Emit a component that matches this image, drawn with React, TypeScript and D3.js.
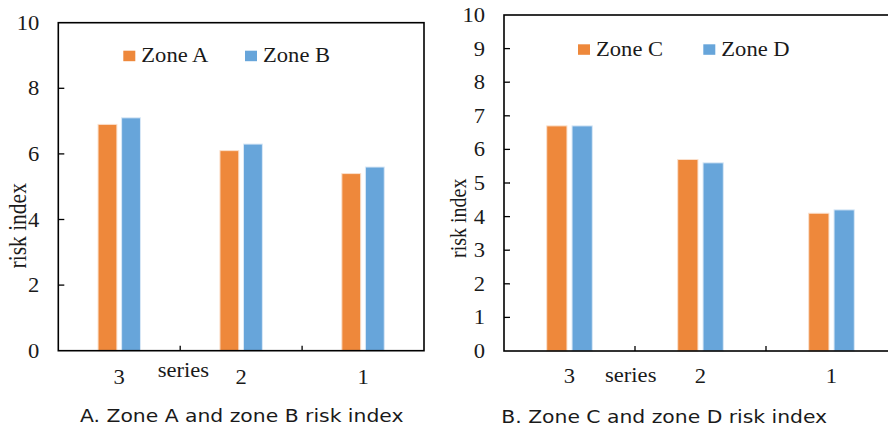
import React from 'react';
import * as d3 from 'd3';

const categories = ['3', '2', '1'];
const zoneA = [6.9, 6.1, 5.4];
const zoneB = [7.1, 6.3, 5.6];
const zoneC = [6.7, 5.7, 4.1];
const zoneD = [6.7, 5.6, 4.2];
const ticksLeft = [0, 2, 4, 6, 8, 10];
const ticksRight = [0, 1, 2, 3, 4, 5, 6, 7, 8, 9, 10];

const ORANGE = '#EE883B';
const BLUE = '#67A5DA';
const SERIF = '"Liberation Serif", "Times New Roman", serif';
const SANS = '"DejaVu Sans", Verdana, sans-serif';
const SX = 1.13; // the picture is a bit stretched sideways

type PanelProps = {
  left: number; right: number; top: number; bottom: number;
  ticks: number[];
  names: string[];
  series: number[][];
  legend: { x: number; y: number; gap: number };
  seriesLabel: { x: number; y: number };
  tickLabelY: number;
  yLabel: { x: number; y: number; size: number };
  caption: { x: number; y: number; text: string };
};

function Txt(props: { x: number; y: number; anchor?: string; size: number; font: string; rot?: boolean; children: React.ReactNode }) {
  const { x, y, anchor = 'start', size, font, rot, children } = props;
  return (
    <text
      transform={`translate(${x},${y}) scale(${SX},1)${rot ? ' rotate(-90)' : ''}`}
      textAnchor={anchor}
      fontFamily={font}
      fontSize={size}
      fill="#1a1a1a"
      dominantBaseline={rot ? 'central' : undefined}
    >
      {children}
    </text>
  );
}

function Panel(p: PanelProps) {
  const y = d3.scaleLinear().domain([0, 10]).range([p.bottom, p.top]);
  const x0 = d3.scaleBand().domain(categories).range([p.left, p.right]);
  const groupW = x0.bandwidth() * 0.348;
  const x1 = d3.scaleBand().domain(p.names).range([0, groupW]).paddingInner(0.2);
  const colors = d3.scaleOrdinal<string, string>().domain(p.names).range([ORANGE, BLUE]);
  const strokes = ['#FBE0CC', '#D9E8F6'];

  return (
    <g>
      {/* bars */}
      {categories.map((c, i) => {
        const gx = (x0(c) as number) + x0.bandwidth() / 2 - groupW / 2;
        return p.names.map((n, k) => (
          <rect
            key={c + n}
            x={gx + (x1(n) as number)}
            y={y(p.series[k][i])}
            width={x1.bandwidth()}
            height={p.bottom - y(p.series[k][i])}
            fill={colors(n)}
            stroke={strokes[k]}
            strokeWidth={1}
          />
        ));
      })}

      {/* frame */}
      <rect x={p.left} y={p.top} width={p.right - p.left} height={p.bottom - p.top}
        fill="none" stroke="#000" strokeWidth={1.6} />

      {/* y ticks */}
      {p.ticks.map((t) => (
        <g key={t}>
          {t > 0 && t < 10 && <line x1={p.left} x2={p.left + 6} y1={y(t)} y2={y(t)} stroke="#000" strokeWidth={1.3} />}
          <Txt x={p.left - 19} y={y(t) + 7} anchor="end" size={20} font={SERIF}>{t}</Txt>
        </g>
      ))}

      {/* x ticks between categories */}
      {categories.slice(1).map((c) => (
        <line key={c} x1={x0(c) as number} x2={x0(c) as number} y1={p.bottom} y2={p.bottom - 5} stroke="#000" strokeWidth={1.3} />
      ))}
      {categories.map((c) => (
        <Txt key={c} x={(x0(c) as number) + x0.bandwidth() / 2} y={p.tickLabelY} anchor="middle" size={20} font={SERIF}>{c}</Txt>
      ))}
      <Txt x={p.seriesLabel.x} y={p.seriesLabel.y} size={20} font={SERIF}>series</Txt>

      {/* y label */}
      <Txt x={p.yLabel.x} y={p.yLabel.y} anchor="middle" size={p.yLabel.size} font={SERIF} rot>risk index</Txt>

      {/* legend */}
      {p.names.map((n, k) => {
        const lx = p.legend.x + k * p.legend.gap;
        return (
          <g key={n}>
            <rect x={lx} y={p.legend.y} width={12} height={10.5} fill={colors(n)} />
            <Txt x={lx + 18} y={p.legend.y + 11.5} size={20} font={SERIF}>{n}</Txt>
          </g>
        );
      })}

      <Txt x={p.caption.x} y={p.caption.y} size={18} font={SANS}>{p.caption.text}</Txt>
    </g>
  );
}

export default function App() {
  return (
    <div style={{ position: 'fixed', left: 0, top: 0 }}>
      <svg width={888} height={428} style={{ display: 'block', background: '#fff' }}>
        <Panel
          left={58.3} right={424} top={22.7} bottom={350.7}
          ticks={ticksLeft}
          names={['Zone A', 'Zone B']}
          series={[zoneA, zoneB]}
          legend={{ x: 123.3, y: 50.7, gap: 121.7 }}
          seriesLabel={{ x: 157.7, y: 377 }}
          tickLabelY={384}
          yLabel={{ x: 18, y: 225.8, size: 21.5 }}
          caption={{ x: 80, y: 421.7, text: 'A. Zone A and zone B risk index' }}
        />
        <Panel
          left={504} right={897} top={15} bottom={351}
          ticks={ticksRight}
          names={['Zone C', 'Zone D']}
          series={[zoneC, zoneD]}
          legend={{ x: 578, y: 44.3, gap: 125.3 }}
          seriesLabel={{ x: 605, y: 382.3 }}
          tickLabelY={383}
          yLabel={{ x: 458.3, y: 218.3, size: 20 }}
          caption={{ x: 501.3, y: 422.7, text: 'B. Zone C and zone D risk index' }}
        />
      </svg>
    </div>
  );
}
